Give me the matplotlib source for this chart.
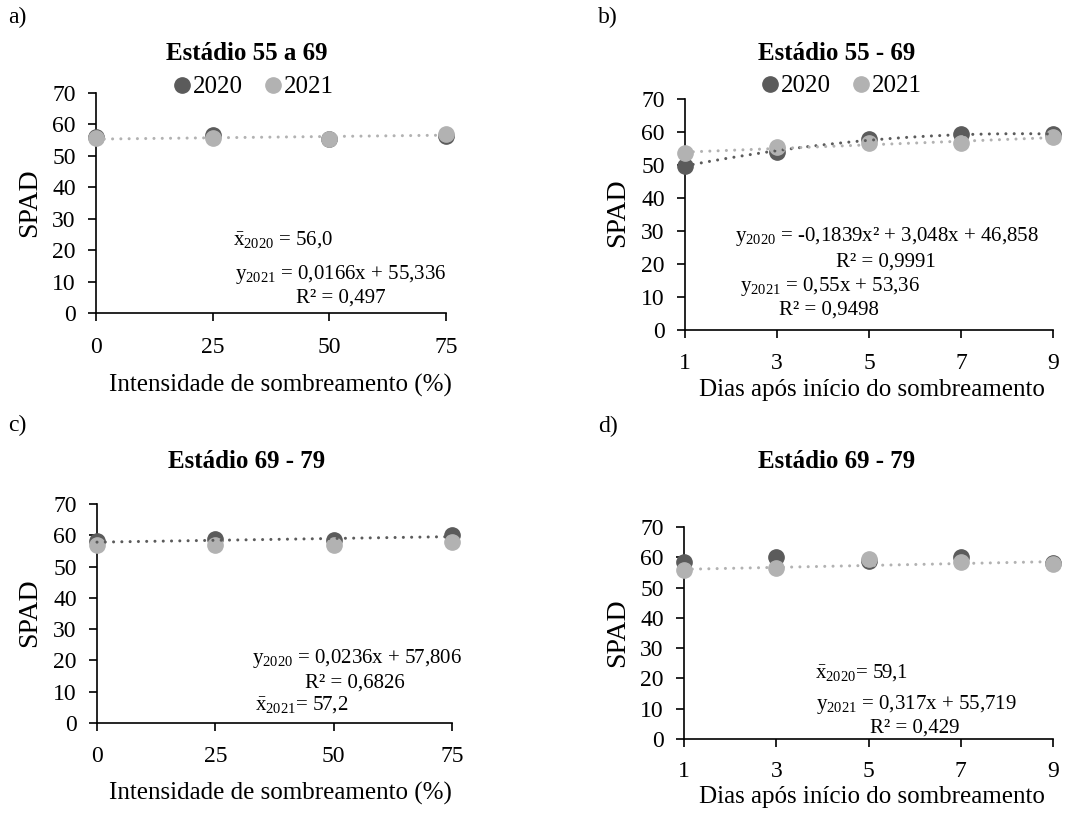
import numpy as np
import matplotlib
matplotlib.use("Agg")
import matplotlib.pyplot as plt

plt.rcParams["font.family"] = ["Liberation Serif", "DejaVu Serif"]
plt.rcParams["mathtext.fontset"] = "custom"
plt.rcParams["mathtext.rm"] = "Liberation Serif"
plt.rcParams["mathtext.it"] = "Liberation Serif"
plt.rcParams["mathtext.bf"] = "Liberation Serif:bold"

W, H = 1076, 814
C2020 = "#5b5b5b"
C2021 = "#b2b2b2"

# ---- data -------------------------------------------------------------
shade_levels = [0, 25, 50, 75]
days = [1, 3, 5, 7, 9]
shade_ticks = ["0", "25", "50", "75"]
day_ticks = ["1", "3", "5", "7", "9"]
y_ticks = [0, 10, 20, 30, 40, 50, 60, 70]

a_2020 = [55.9, 56.5, 55.3, 56.3]
a_2021 = [55.6, 55.8, 55.4, 56.8]
b_2020 = [49.8, 54.0, 57.9, 59.4, 59.5]
b_2021 = [53.7, 55.6, 56.6, 56.6, 58.4]
c_2020 = [58.3, 58.9, 58.6, 60.1]
c_2021 = [56.8, 57.0, 57.0, 58.0]
d_2020 = [58.6, 60.0, 58.7, 60.0, 58.2]
d_2021 = [55.8, 56.4, 59.4, 58.4, 57.9]

# fitted trend coefficients (highest power first)
a_fit_2021 = [0.0166, 55.336]
b_fit_2020 = [-0.1839, 3.048, 46.858]
b_fit_2021 = [0.55, 53.36]
c_fit_2020 = [0.0236, 57.806]
d_fit_2021 = [0.317, 55.719]

titles = ["Estádio 55 a 69", "Estádio 55 - 69", "Estádio 69 - 79", "Estádio 69 - 79"]
xlabels = ["Intensidade de sombreamento (%)", "Dias após início do sombreamento",
           "Intensidade de sombreamento (%)", "Dias após início do sombreamento"]
panel_tags = ["a)", "b)", "c)", "d)"]

TICK_FS = 17
LABEL_FS = 18
TITLE_FS = 18
NOTE_FS = 15
LEGEND_FS = 18

fig = plt.figure(figsize=(W / 100, H / 100), dpi=100)


def fx(px):
    return px / W


def fy(py):
    return 1 - py / H


def make_axes(left, right, top, bottom):
    return fig.add_axes([fx(left), fy(bottom), fx(right - left), (bottom - top) / H])


def style(ax, xs, xt, xpad):
    ax.set_xlim(xs[0], xs[-1])
    ax.set_ylim(0, 70)
    ax.set_xticks(xs)
    ax.set_xticklabels(xt)
    ax.set_yticks(y_ticks)
    for s in ["top", "right"]:
        ax.spines[s].set_visible(False)
    for s in ["left", "bottom"]:
        ax.spines[s].set_linewidth(1.2)
        ax.spines[s].set_color("black")
    ax.tick_params(axis="both", direction="out", length=5.5, width=1.2,
                   labelsize=TICK_FS, colors="black")
    ax.tick_params(axis="x", pad=xpad)
    ax.tick_params(axis="y", pad=9)


def scatter(ax, x, y, color):
    ax.plot(x, y, "o", ms=11, color=color, mec=color, clip_on=False, zorder=3)


def trend(ax, coeffs, x0, x1, color):
    xx = np.linspace(x0, x1, 200)
    ax.plot(xx, np.polyval(coeffs, xx), color=color, lw=2.2,
            linestyle=(0, (0.01, 2.7)), dash_capstyle="round",
            solid_capstyle="round", zorder=4, clip_on=False)


def note(px, py, s, size=NOTE_FS):
    fig.text(fx(px), fy(py), s, fontsize=size, ha="left", va="center")


# ---- panel a ----------------------------------------------------------
axa = make_axes(96, 446, 93, 313)
style(axa, shade_levels, shade_ticks, 12)
scatter(axa, shade_levels, a_2020, C2020)
scatter(axa, shade_levels, a_2021, C2021)
trend(axa, a_fit_2021, 0, 75, C2021)

# ---- panel b ----------------------------------------------------------
axb = make_axes(685, 1053, 99, 330)
style(axb, days, day_ticks, 11)
scatter(axb, days, b_2020, C2020)
scatter(axb, days, b_2021, C2021)
trend(axb, b_fit_2020, 1, 9, C2020)
trend(axb, b_fit_2021, 1, 9, C2021)

# ---- panel c ----------------------------------------------------------
axc = make_axes(97, 452, 504, 723)
style(axc, shade_levels, shade_ticks, 11)
scatter(axc, shade_levels, c_2020, C2020)
scatter(axc, shade_levels, c_2021, C2021)
trend(axc, c_fit_2020, 0, 75, C2020)

# ---- panel d ----------------------------------------------------------
axd = make_axes(684, 1053, 527, 739)
style(axd, days, day_ticks, 10)
scatter(axd, days, d_2020, C2020)
scatter(axd, days, d_2021, C2021)
trend(axd, d_fit_2021, 1, 9, C2021)

# ---- titles, tags, axis labels ---------------------------------------
title_pos = [(247, 53), (837, 53), (247, 462), (837, 462)]
tag_pos = [(8, 17), (598, 17), (8, 425), (598, 426)]
xlabel_pos = [(280, 385), (872, 390), (280, 793), (872, 797)]
ylabel_pos = [(30, 203), (618, 213), (30, 613), (618, 633)]
for i in range(4):
    fig.text(fx(title_pos[i][0]), fy(title_pos[i][1]), titles[i], fontsize=TITLE_FS,
             fontweight="bold", ha="center", va="center")
    fig.text(fx(tag_pos[i][0]), fy(tag_pos[i][1]), panel_tags[i], fontsize=17,
             ha="left", va="center")
    fig.text(fx(xlabel_pos[i][0]), fy(xlabel_pos[i][1]), xlabels[i], fontsize=LABEL_FS,
             ha="center", va="center")
    fig.text(fx(ylabel_pos[i][0]), fy(ylabel_pos[i][1]), "SPAD", fontsize=20,
             rotation=90, ha="center", va="center")

# ---- legends ----------------------------------------------------------
for ax, (cx, cy) in [(axa, (254, 87)), (axb, (842, 86))]:
    h1 = ax.plot([], [], "o", ms=11, color=C2020, label="2020")[0]
    h2 = ax.plot([], [], "o", ms=11, color=C2021, label="2021")[0]
    fig.legend(handles=[h1, h2], loc="center", bbox_to_anchor=(fx(cx), fy(cy)),
               ncol=2, frameon=False, fontsize=LEGEND_FS, handlelength=0.6,
               handletextpad=0.15, columnspacing=0.9, borderpad=0)

# ---- equations --------------------------------------------------------
note(233, 240, r"$\bar{\mathrm{x}}_{\mathrm{2020}}$ = 56,0")
note(235, 274, r"y$_{2021}$ = 0,0166x + 55,336")
note(296, 298, "R² = 0,497")

note(735, 237, r"y$_{2020}$ = -0,1839x² + 3,048x + 46,858")
note(836, 262, "R² = 0,9991")
note(740, 286, r"y$_{2021}$ = 0,55x + 53,36")
note(779, 310, "R² = 0,9498")

note(252, 658, r"y$_{2020}$ = 0,0236x + 57,806")
note(305, 683, "R² = 0,6826")
note(255, 705, r"$\bar{\mathrm{x}}_{\mathrm{2021}}$= 57,2")

note(815, 673, r"$\bar{\mathrm{x}}_{\mathrm{2020}}$= 59,1")
note(816, 705, r"y$_{2021}$ = 0,317x + 55,719")
note(870, 728, "R² = 0,429")

fig.savefig("out.png", dpi=100)
